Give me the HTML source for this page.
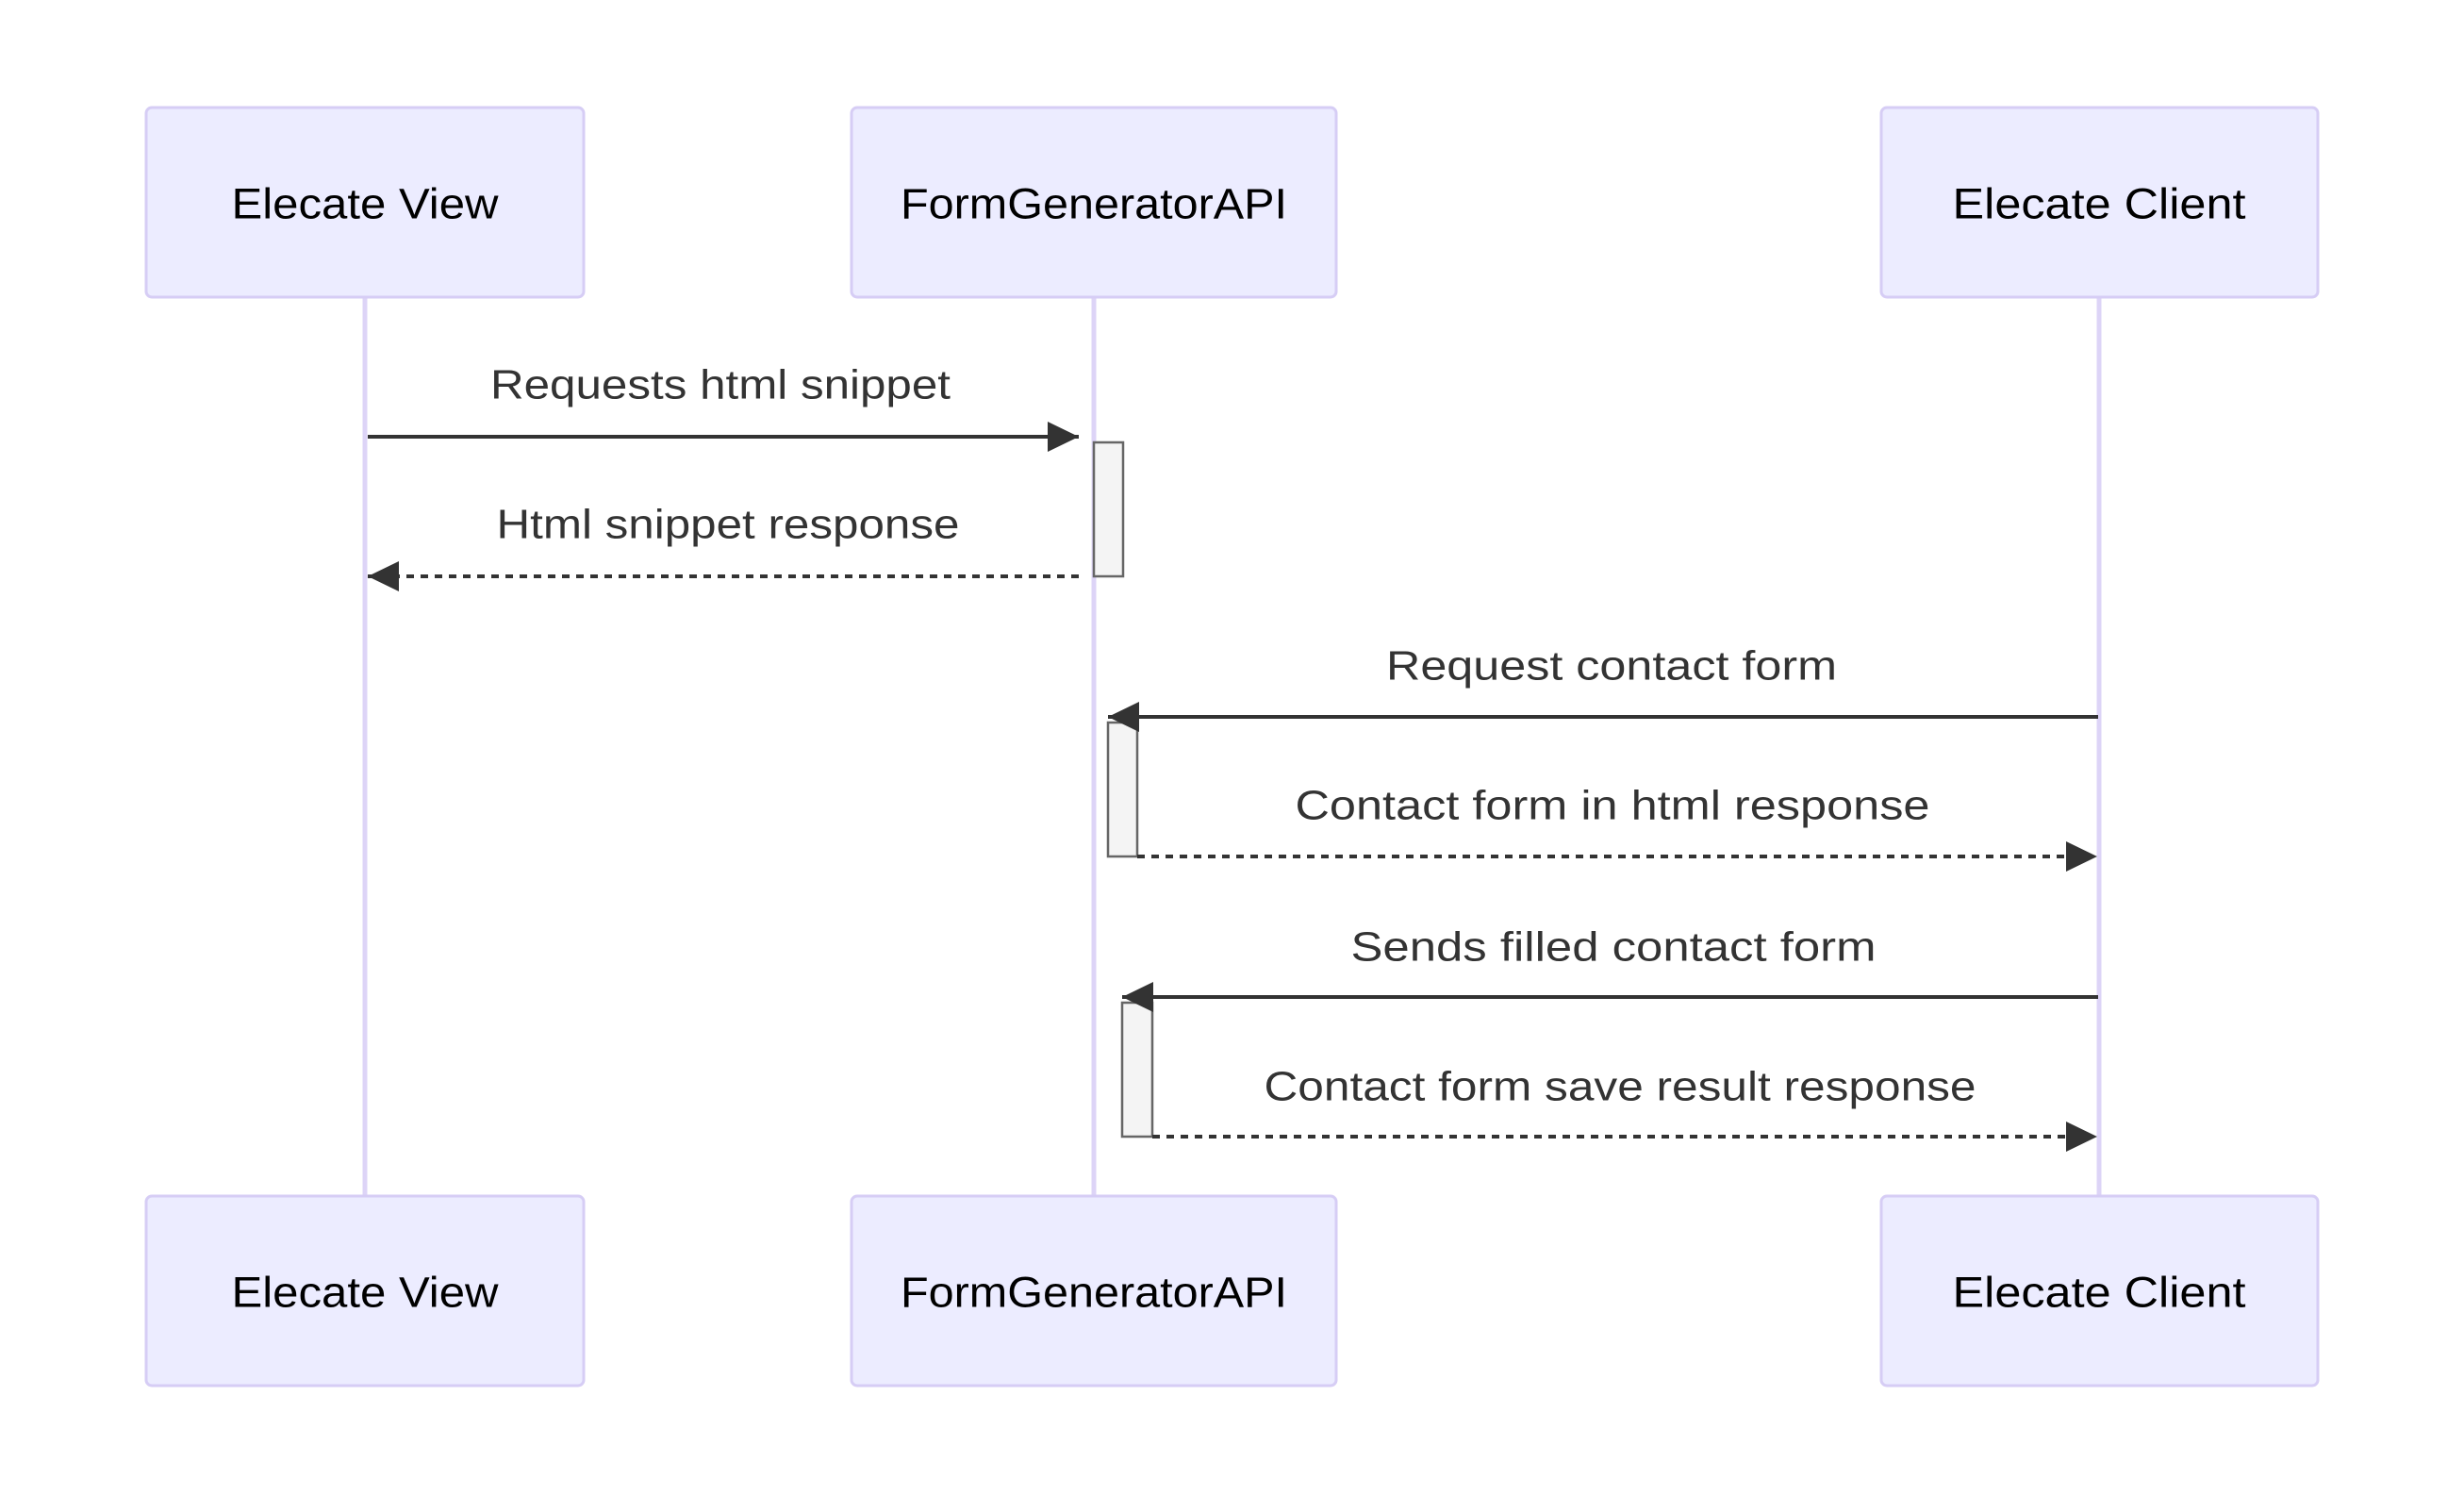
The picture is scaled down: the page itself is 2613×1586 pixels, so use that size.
<!DOCTYPE html>
<html><head><meta charset="utf-8"><style>html,body{margin:0;padding:0;background:#fff;}svg{display:block}</style></head>
<body>
<svg width="2613" height="1586" viewBox="0 0 2613 1586" xmlns="http://www.w3.org/2000/svg" font-family="'Liberation Sans', sans-serif">
<defs>
<marker id="ah" markerWidth="33" markerHeight="32" refX="33" refY="16" markerUnits="userSpaceOnUse" orient="auto"><path d="M0,0 L33,16 L0,32 Z" fill="#333"/></marker>
</defs>
<rect width="2613" height="1586" fill="#fff"/>
<g stroke="#ddd4f7" stroke-width="5">
<line x1="387" y1="315" x2="387" y2="1268"/>
<line x1="1160" y1="315" x2="1160" y2="1268"/>
<line x1="2226" y1="315" x2="2226" y2="1268"/>
</g>
<g fill="#ECECFF" stroke="#d6cdf5" stroke-width="3">
<rect x="155" y="114" width="464" height="201" rx="6"/>
<rect x="903" y="114" width="514" height="201" rx="6"/>
<rect x="1995" y="114" width="463" height="201" rx="6"/>
<rect x="155" y="1268" width="464" height="201" rx="6"/>
<rect x="903" y="1268" width="514" height="201" rx="6"/>
<rect x="1995" y="1268" width="463" height="201" rx="6"/>
</g>
<g font-size="45" fill="#000" text-anchor="middle" dominant-baseline="central">
<text x="387" y="216" textLength="283" lengthAdjust="spacingAndGlyphs">Elecate View</text>
<text x="1160" y="216" textLength="410" lengthAdjust="spacingAndGlyphs">FormGeneratorAPI</text>
<text x="2226" y="216" textLength="311" lengthAdjust="spacingAndGlyphs">Elecate Client</text>
<text x="387" y="1370" textLength="283" lengthAdjust="spacingAndGlyphs">Elecate View</text>
<text x="1160" y="1370" textLength="410" lengthAdjust="spacingAndGlyphs">FormGeneratorAPI</text>
<text x="2226" y="1370" textLength="311" lengthAdjust="spacingAndGlyphs">Elecate Client</text>
</g>
<g fill="#f4f4f4" stroke="#666" stroke-width="2.5">
<rect x="1160" y="469" width="31" height="142"/>
<rect x="1175" y="766" width="31" height="142"/>
<rect x="1190" y="1063" width="32" height="142"/>
</g>
<g stroke="#333" stroke-width="4" fill="none">
<line x1="390" y1="463" x2="1144" y2="463" marker-end="url(#ah)"/>
<line x1="1144" y1="611" x2="390" y2="611" stroke-dasharray="8,7" marker-end="url(#ah)"/>
<line x1="2225" y1="760" x2="1175" y2="760" marker-end="url(#ah)"/>
<line x1="1206" y1="908" x2="2224" y2="908" stroke-dasharray="8,7" marker-end="url(#ah)"/>
<line x1="2225" y1="1057" x2="1190" y2="1057" marker-end="url(#ah)"/>
<line x1="1222" y1="1205" x2="2224" y2="1205" stroke-dasharray="8,7" marker-end="url(#ah)"/>
</g>
<g font-size="44" fill="#333" text-anchor="middle" dominant-baseline="central">
<text x="764" y="408" textLength="488" lengthAdjust="spacingAndGlyphs">Requests html snippet</text>
<text x="772" y="556" textLength="491" lengthAdjust="spacingAndGlyphs">Html snippet response</text>
<text x="1709" y="706" textLength="478" lengthAdjust="spacingAndGlyphs">Request contact form</text>
<text x="1710" y="854" textLength="673" lengthAdjust="spacingAndGlyphs">Contact form in html response</text>
<text x="1711" y="1004" textLength="557" lengthAdjust="spacingAndGlyphs">Sends filled contact form</text>
<text x="1718" y="1152" textLength="755" lengthAdjust="spacingAndGlyphs">Contact form save result response</text>
</g>
</svg>
</body></html>
